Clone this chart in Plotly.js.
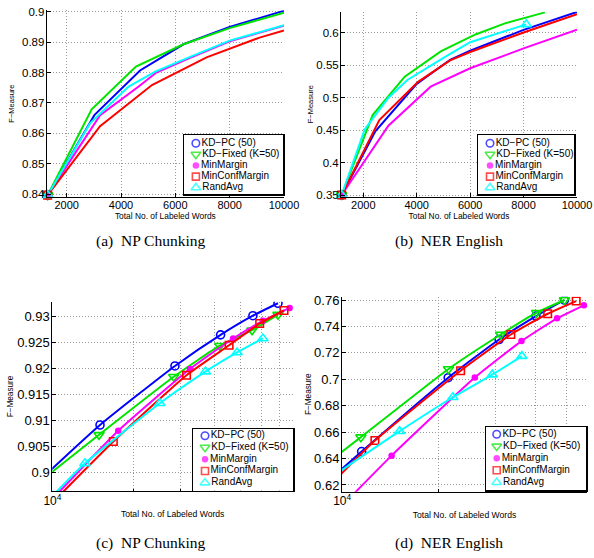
<!DOCTYPE html>
<html><head><meta charset="utf-8">
<script src="https://cdn.plot.ly/plotly-3.0.1.min.js"></script>
<style>html,body{margin:0;padding:0;background:#fff}#chart{width:594px;height:558px}</style>
</head><body><div id="chart"></div>
<script>
// ---------- series ----------
const seriesNames = ['KD\u2212PC (50)', 'KD\u2212Fixed (K=50)', 'MinMargin', 'MinConfMargin', 'RandAvg'];

// (a) NP Chunking, linear x
const aKdpcX = [1300, 3020, 4700, 6300, 8000, 10000];
const aKdpcY = [0.8397, 0.8660, 0.8807, 0.8893, 0.8950, 0.9003];
const aKdfixX = [1300, 2920, 4550, 6300, 8000, 10000];
const aKdfixY = [0.8397, 0.8679, 0.8820, 0.8893, 0.8946, 0.8997];
const aMinmX = [1300, 3230, 4650, 5300, 6500, 8000, 10000];
const aMinmY = [0.8397, 0.8660, 0.8754, 0.8800, 0.8847, 0.8903, 0.8954];
const aMincX = [1300, 3230, 5140, 7150, 9100, 10000];
const aMincY = [0.8397, 0.8624, 0.8759, 0.8850, 0.8915, 0.8938];
const aRandX = [1300, 2860, 4280, 5260, 6500, 8000, 10000];
const aRandY = [0.8397, 0.8633, 0.8754, 0.8803, 0.8850, 0.8905, 0.8956];

// (b) NER English, linear x
const bKdpcX = [1190, 2450, 4000, 5250, 6000, 8000, 10000];
const bKdpcY = [0.350, 0.448, 0.521, 0.558, 0.572, 0.604, 0.6315];
const bKdfixX = [1190, 2350, 3550, 4900, 6200, 7300, 8800];
const bKdfixY = [0.350, 0.473, 0.532, 0.571, 0.597, 0.614, 0.631];
const bMinmX = [1190, 2940, 4520, 6000, 8000, 10000];
const bMinmY = [0.350, 0.4566, 0.5167, 0.545, 0.5755, 0.6045];
const bMincX = [1190, 2600, 4050, 5250, 6000, 8000, 10000];
const bMincY = [0.350, 0.4653, 0.524, 0.557, 0.570, 0.600, 0.628];
const bRandX = [1190, 2050, 2950, 3650, 5000, 6000, 8100];
const bRandY = [0.350, 0.451, 0.500, 0.527, 0.561, 0.585, 0.6125];

// (c) NP Chunking, log x
const cKdpcX = [9000, 15040, 28600, 42300, 55800, 69200];
const cKdpcY = [0.8985, 0.9091, 0.9205, 0.9265, 0.9302, 0.9326];
const cKdfixX = [9000, 14910, 28300, 42000, 55400, 69200];
const cKdfixY = [0.8982, 0.9072, 0.9184, 0.9244, 0.9274, 0.9304];
const cMinmX = [10000, 17580, 32510, 47100, 60800, 76470];
const cMinmY = [0.8948, 0.9080, 0.9199, 0.9258, 0.9292, 0.9317];
const cMincX = [10000, 16860, 31580, 45500, 59140, 72880];
const cMincY = [0.8941, 0.9059, 0.9187, 0.9245, 0.9287, 0.9312];
const cRandX = [10000, 13220, 25120, 37150, 48720, 60800];
const cRandY = [0.8954, 0.9017, 0.9133, 0.9194, 0.9231, 0.9258];

// (d) NER English, log x
const dKdpcX = [9000, 11500, 21400, 30830, 40180, 49300];
const dKdpcY = [0.6223, 0.6453, 0.7012, 0.7301, 0.7478, 0.7600];
const dKdfixX = [9000, 11440, 21450, 31190, 40370, 49300];
const dKdfixY = [0.6367, 0.6562, 0.7078, 0.7339, 0.7504, 0.7600];
const dMinmX = [10000, 14260, 25900, 36220, 46750, 56680];
const dMinmY = [0.6043, 0.6422, 0.7013, 0.7289, 0.7461, 0.7560];
const dMincX = [9000, 12650, 23400, 33550, 43700, 53620];
const dMincY = [0.6178, 0.6536, 0.7065, 0.7339, 0.7496, 0.7592];
const dRandX = [9000, 15100, 22130, 29380, 36310];
const dRandY = [0.6239, 0.6607, 0.6864, 0.7035, 0.7175];

// ticks / labels
const linXTicks = [2000, 4000, 6000, 8000, 10000];
const logXTicks = [10000];
const logXTickText = ['10<sup>4</sup>'];
const logXMinorTicks = [20000, 30000, 40000, 50000, 60000, 70000, 80000, 90000];
const captions = ['(a)\u00a0\u00a0NP Chunking', '(b)\u00a0\u00a0NER English', '(c)\u00a0\u00a0NP Chunking', '(d)\u00a0\u00a0NER English'];
const xTitle = 'Total No. of Labeled Words';
const yTitle = 'F\u2212Measure';

// ---------- styles ----------
const colors = ['#0000ff', '#00e400', '#ff00ff', '#ff0000', '#00ffff'];
const symbols = ['circle-open', 'triangle-down-open', 'circle', 'square-open', 'triangle-up-open'];
const msizes = [8, 9, 6.5, 7.5, 9];
const FONT = 'Liberation Sans, Arial, Helvetica, sans-serif';

function mk(i) {
  return {symbol: symbols[i], color: colors[i], size: msizes[i],
          line: {color: colors[i], width: i === 2 ? 0 : 1.6}};
}

const traces = [];
function addPanel(n, xs, ys, opts) {
  xs.forEach((x, i) => {
    traces.push({type: 'scatter', x: x, y: ys[i], xaxis: 'x' + n, yaxis: 'y' + n,
      mode: opts.markersAll ? 'lines+markers' : 'lines', showlegend: false, hoverinfo: 'skip',
      name: seriesNames[i], cliponaxis: !!opts.clip,
      line: {color: colors[i], width: 2, shape: opts.shape || 'linear', smoothing: 0.5},
      marker: mk(i)});
  });
  if (!opts.markersAll) {
    xs.forEach((x, i) => {
      const idx = (opts.extraMarks && opts.extraMarks[i]) ? [0].concat(opts.extraMarks[i]) : [0];
      traces.push({type: 'scatter', x: idx.map(k => x[k]), y: idx.map(k => ys[i][k]),
        xaxis: 'x' + n, yaxis: 'y' + n, mode: 'markers', showlegend: false, hoverinfo: 'skip',
        cliponaxis: false, marker: mk(i)});
    });
  }
}
addPanel(1, [aKdpcX, aKdfixX, aMinmX, aMincX, aRandX], [aKdpcY, aKdfixY, aMinmY, aMincY, aRandY], {clip: false});
addPanel(2, [bKdpcX, bKdfixX, bMinmX, bMincX, bRandX], [bKdpcY, bKdfixY, bMinmY, bMincY, bRandY], {clip: false, extraMarks: {4: [bRandX.length - 1]}});
addPanel(3, [cKdpcX, cKdfixX, cMinmX, cMincX, cRandX], [cKdpcY, cKdfixY, cMinmY, cMincY, cRandY], {clip: true, markersAll: true, shape: 'spline'});
addPanel(4, [dKdpcX, dKdfixX, dMinmX, dMincX, dRandX], [dKdpcY, dKdfixY, dMinmY, dMincY, dRandY], {clip: true, markersAll: true, shape: 'spline'});

// legends (one small boxed axis per panel)
const legMarkerX = [0.12, 0.125, 0.12, 0.107];
for (let k = 0; k < 4; k++) {
  traces.push({type: 'scatter', xaxis: 'x' + (5 + k), yaxis: 'y' + (5 + k),
    x: seriesNames.map(() => legMarkerX[k]), y: seriesNames.map((_, i) => i),
    text: seriesNames, mode: 'markers+text', textposition: 'middle right',
    textfont: {family: FONT, size: 10, color: '#000'}, showlegend: false, hoverinfo: 'skip',
    cliponaxis: false,
    marker: {symbol: symbols, color: colors, size: [7.5, 8.5, 6.5, 7, 8.5],
             line: {color: colors, width: [1.6, 1.6, 0, 1.6, 1.6]}}});
}

// ---------- layout ----------
const W = 594, H = 558;
const px = (a, b) => [a / W, b / W];
const py = (top, bot) => [1 - bot / H, 1 - top / H];
const grid = {showgrid: true, gridcolor: '#9a9a9a', griddash: '1px,2px', gridwidth: 1};
const axBase = Object.assign({showline: true, linecolor: '#000', linewidth: 1, mirror: false,
  ticks: 'inside', ticklen: 4, tickcolor: '#000', tickwidth: 1, zeroline: false, fixedrange: true}, grid);

function xAx(n, dom, range, type, tickvals, ticktext, tsize, ttsize, standoff, minorVals) {
  const ax = Object.assign({}, axBase, {domain: dom, range: range, type: type, anchor: 'y' + n,
    tickmode: 'array', tickvals: tickvals, ticktext: ticktext, ticklabelstandoff: -2,
    tickfont: {family: FONT, size: tsize, color: '#000'},
    title: {text: xTitle, font: {family: FONT, size: ttsize, color: '#000'}, standoff: standoff}});
  if (minorVals) {
    ax.minor = Object.assign({tickmode: 'array', tickvals: minorVals, ticks: 'inside', ticklen: 2.5,
      tickcolor: '#000', tickwidth: 1}, grid);
  }
  return ax;
}
function yAx(n, dom, range, tick0, dtick, tsize, ttsize, standoff) {
  return Object.assign({}, axBase, {domain: dom, range: range, anchor: 'x' + n,
    tickmode: 'linear', tick0: tick0, dtick: dtick, ticklabelstandoff: -1,
    tickfont: {family: FONT, size: tsize, color: '#000'},
    title: {text: yTitle, font: {family: FONT, size: ttsize, color: '#000'}, standoff: standoff}});
}
function legAx(anchor, dom, range) {
  return {domain: dom, range: range, anchor: anchor, showline: true, mirror: true, linecolor: '#000',
    linewidth: 1.5, ticks: '', showticklabels: false, showgrid: false, zeroline: false, fixedrange: true};
}

const layout = {
  width: W, height: H, margin: {l: 0, r: 0, t: 0, b: 0},
  paper_bgcolor: '#fff', plot_bgcolor: 'rgba(0,0,0,0)', showlegend: false,
  font: {family: FONT, color: '#000'},
  xaxis: xAx(1, px(46.7, 284), [1265, 10000], 'linear', linXTicks, linXTicks.map(String), 11, 8.4, 0),
  yaxis: yAx(1, py(10.2, 197), [0.8391, 0.9005], 0.84, 0.01, 11.5, 7.5, 6),
  xaxis2: xAx(2, px(341, 577), [1165, 10000], 'linear', linXTicks, linXTicks.map(String), 11, 8.4, 0),
  yaxis2: yAx(2, py(11.7, 196.7), [0.3474, 0.632], 0.35, 0.05, 11.5, 7.5, 1),
  xaxis3: xAx(3, px(52.3, 293), [3.9995, 4.896], 'log', logXTicks, logXTickText, 12, 8.6, 4, logXMinorTicks),
  yaxis3: yAx(3, py(301.7, 491.3), [0.8963, 0.9329], 0.9, 0.005, 13, 8.2, 2),
  xaxis4: xAx(4, px(342, 587), [3.9995, 4.763], 'log', logXTicks, logXTickText, 12, 8.6, 4, logXMinorTicks),
  yaxis4: yAx(4, py(296.7, 491.7), [0.6149, 0.7625], 0.62, 0.02, 13, 8.2, 1),
  xaxis5: legAx('y5', px(184, 283), [0, 1]), yaxis5: legAx('x5', py(135, 194), [4.57, -0.75]),
  xaxis6: legAx('y6', px(478, 574), [0, 1]), yaxis6: legAx('x6', py(135, 194), [4.57, -0.75]),
  xaxis7: legAx('y7', px(193, 293), [0, 1]), yaxis7: legAx('x7', py(429, 490.7), [4.68, -0.57]),
  xaxis8: legAx('y8', px(486, 586), [0, 1]), yaxis8: legAx('x8', py(427.3, 490), [4.64, -0.58]),
  shapes: [5, 6, 7, 8].map(n => ({type: 'rect', xref: 'x' + n, yref: 'y' + n, x0: -1, x1: 2, y0: -5, y1: 10,
    fillcolor: '#fff', line: {width: 0}, layer: 'below'})),
  annotations: captions.map((t, k) => ({text: t, xref: 'paper', yref: 'paper', showarrow: false,
    x: [150, 449, 150, 449][k] / W, y: 1 - [241, 241, 543, 543][k] / H, xanchor: 'center', yanchor: 'middle',
    font: {family: 'Liberation Serif, Times New Roman, serif', size: 15.5, color: '#000'}}))
};

Plotly.newPlot('chart', traces, layout, {staticPlot: true, displayModeBar: false});
</script>
</body></html>
